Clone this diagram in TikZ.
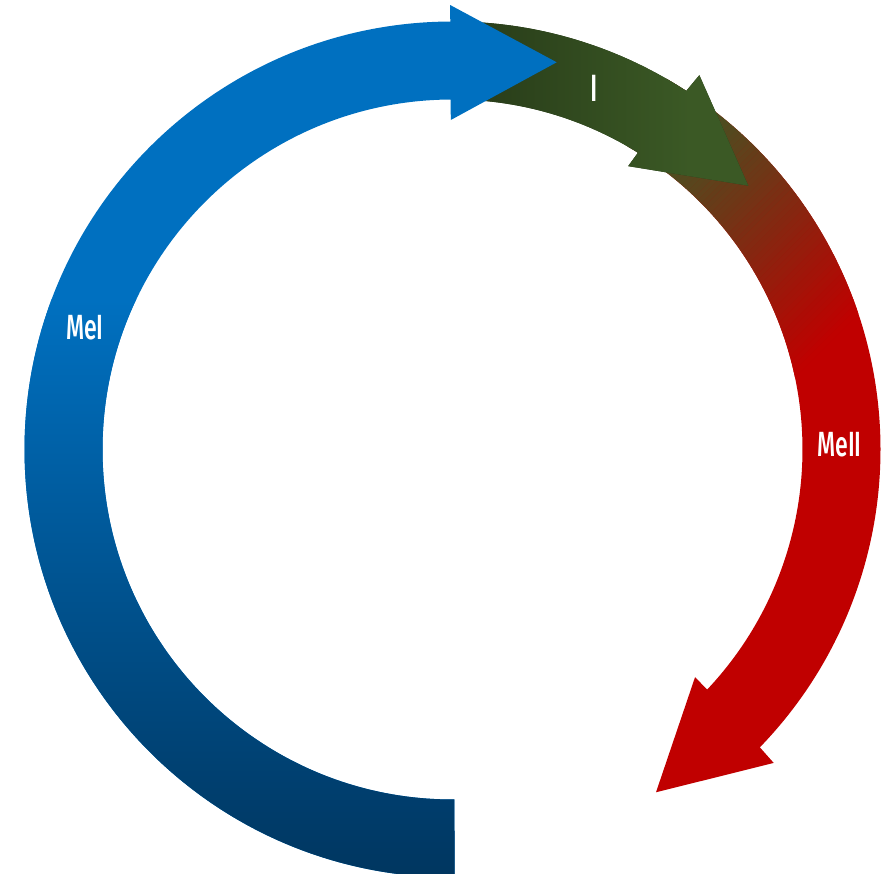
\documentclass[tikz,border=0pt]{standalone}
\usepackage{fontspec}
\usepackage{graphicx}
\newfontfamily\labfont{Fira Sans}[UprightFont={* Medium}]
\definecolor{bluetop}{HTML}{0070C0}
\definecolor{bluebot}{HTML}{003660}
\definecolor{greendark}{HTML}{283C19}
\definecolor{greenhead}{HTML}{3B5925}
\definecolor{redmain}{HTML}{C00000}
\begin{document}
\begin{tikzpicture}[x=1pt,y=1pt,
  lab/.style={text=white, inner sep=0pt, font=\labfont\fontsize{35}{35}\selectfont}]
\useasboundingbox (0,0) rectangle (887,874);
\clip (0,0) rectangle (887,874);
\coordinate (C) at (452.5,424.5);
\coordinate (redtip) at (656,81.7);
\coordinate (greentip) at (748.3,688.3);
\coordinate (bluetip) at (556.7,811.7);

% red arrow
\begin{scope}
\clip ([shift={(C)}]60:428) arc[start angle=60,end angle=-44.1,radius=428]
  -- ([shift={(C)}]-44.3:448.8) -- (redtip) -- ([shift={(C)}]-43.2:332.7)
  -- ([shift={(C)}]-43.3:350) arc[start angle=-43.3,end angle=60,radius=350] -- cycle;
\fill[redmain] (0,0) rectangle (887,874);
\begin{scope}[shift={(650,734)}, rotate=-45]
\fill[greenhead] (-900,-900) rectangle (0,900);
\foreach \i in {0,...,59} {
  \pgfmathsetmacro\p{(\i+0.5)/60*100}
  \fill[redmain!\p!greenhead] (\i*4.5,-900) rectangle (\i*4.5+4.7,900);
}
\end{scope}
\end{scope}

% green arrow
\begin{scope}
\clip ([shift={(C)}]89:428) arc[start angle=89,end angle=56.9,radius=428]
  -- ([shift={(C)}]56.6:448.4) -- (greentip) -- ([shift={(C)}]58.2:333.4)
  -- ([shift={(C)}]58.0:350) arc[start angle=58,end angle=89,radius=350] -- cycle;
\fill[greendark] (0,0) rectangle (887,874);
\shade[left color=greendark, right color=greenhead] (470,0) rectangle (690,874);
\fill[greenhead] (690,0) rectangle (887,874);
\end{scope}

% blue arrow
\begin{scope}
\clip ([shift={(C)}]-89.7:428) arc[start angle=-89.7,end angle=-269.7,radius=428]
  -- ([shift={(C)}]90.3:444.5) -- (bluetip) -- ([shift={(C)}]90.3:329.5)
  -- ([shift={(C)}]90.3:350) arc[start angle=90.3,end angle=270.3,radius=350] -- cycle;
\fill[bluetop] (0,0) rectangle (887,874);
\shade[top color=bluetop, bottom color=bluebot] (0,0) rectangle (887,574);
\end{scope}

% labels
\node[lab] (mei) at (85,546) {\scalebox{0.66}[1]{MeI}};
\node[lab] (meii) at (839.5,429.3) {\scalebox{0.66}[1]{MeII}};
\node[lab, font=\labfont\fontsize{38}{38}\selectfont] (i) at (594,785.7) {\scalebox{0.66}[1]{I}};
\end{tikzpicture}
\end{document}
